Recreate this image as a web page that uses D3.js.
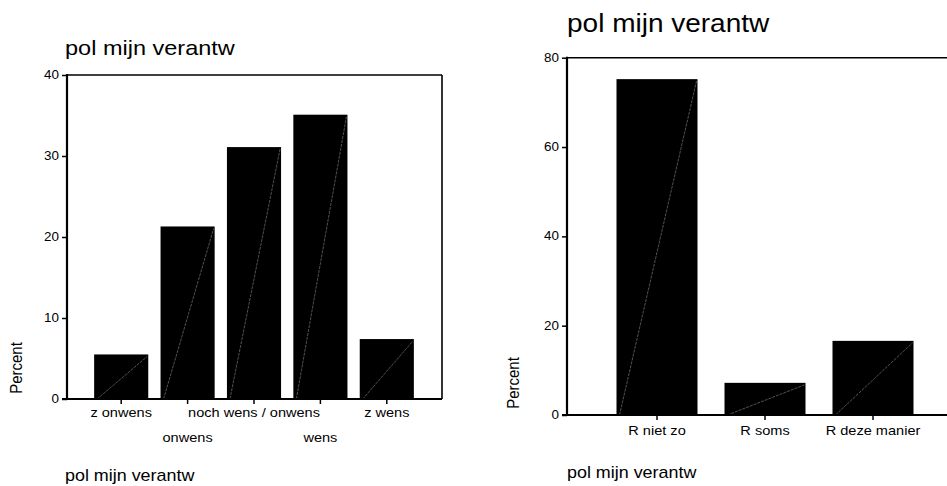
<!DOCTYPE html>
<html>
<head>
<meta charset="utf-8">
<script src="https://cdn.jsdelivr.net/npm/d3@7"></script>
<style>
  html, body { margin: 0; padding: 0; background: #fff; }
  svg { display: block; font-family: "Liberation Sans", Arial, sans-serif; }
</style>
</head>
<body>
<svg id="chart" width="947" height="486"></svg>
<script>
// ---- Data ----
const leftCategories = ["z onwens", "onwens", "noch wens / onwens", "wens", "z wens"];
const leftValues = [5.5, 21.3, 31.1, 35.1, 7.4];
const leftTicks = [0, 10, 20, 30, 40];

const rightCategories = ["R niet zo", "R soms", "R deze manier"];
const rightValues = [75.2, 7.2, 16.6];
const rightTicks = [0, 20, 40, 60, 80];

const titleText = "pol mijn verantw";
const yLabelText = "Percent";
const xLabelText = "pol mijn verantw";

const svg = d3.select("#chart");
const SX = 1.12; // horizontal text stretch

function txt(g, x, y, s, size, anchor, extra) {
  const t = g.append("text")
    .attr("transform", `translate(${x},${y}) scale(${SX},1)` + (extra || ""))
    .attr("font-size", size)
    .attr("text-anchor", anchor || "start")
    .attr("fill", "#000")
    .text(s);
  return t;
}

function drawChart(cfg) {
  const g = svg.append("g");
  const y = d3.scaleLinear().domain(cfg.yDomain).range([cfg.bottom, cfg.top]);
  const x = d3.scaleBand().domain(cfg.categories).range(cfg.bandRange).paddingInner(cfg.pad).paddingOuter(cfg.pad / 2);

  // frame top & right
  g.append("line").attr("x1", cfg.left).attr("x2", cfg.right).attr("y1", cfg.top).attr("y2", cfg.top)
    .attr("stroke", "#000").attr("stroke-width", 1.6);
  if (cfg.right < 947) {
    g.append("line").attr("x1", cfg.right).attr("x2", cfg.right).attr("y1", cfg.top).attr("y2", cfg.bottom)
      .attr("stroke", "#000").attr("stroke-width", 1.6);
  }

  // bars
  const bars = g.selectAll("g.bar").data(cfg.categories.map((c, i) => ({ c, v: cfg.values[i] }))).enter().append("g");
  bars.append("rect")
    .attr("x", d => x(d.c)).attr("width", x.bandwidth())
    .attr("y", d => y(d.v)).attr("height", d => y(0) - y(d.v))
    .attr("fill", "#000");
  bars.append("line")
    .attr("x1", d => x(d.c) + 3).attr("y1", y(0))
    .attr("x2", d => x(d.c) + x.bandwidth() - 1).attr("y2", d => y(d.v) + 2)
    .attr("stroke", "#8a8a8a").attr("stroke-width", 0.6).attr("stroke-dasharray", "3,1");

  // y axis
  const ya = g.append("g").attr("transform", `translate(${cfg.left},0)`)
    .call(d3.axisLeft(y).tickValues(cfg.ticks).tickSize(5).tickPadding(3).tickFormat(d3.format("d")));
  ya.select(".domain").remove();
  ya.selectAll(".tick line").attr("stroke", "#000").attr("stroke-width", 1.5);
  ya.selectAll(".tick text").remove();
  cfg.ticks.forEach(t => {
    txt(g, cfg.left - 8, y(t) + 4, String(t), 12, "end");
  });
  g.append("line").attr("x1", cfg.left).attr("x2", cfg.left).attr("y1", cfg.top - 1).attr("y2", cfg.bottom + 1)
    .attr("stroke", "#000").attr("stroke-width", 2.2);

  // x axis
  const xa = g.append("g").attr("transform", `translate(0,${cfg.bottom})`)
    .call(d3.axisBottom(x).tickSize(5).tickSizeOuter(0));
  xa.select(".domain").remove();
  xa.selectAll(".tick line").attr("stroke", "#000").attr("stroke-width", 1.5);
  xa.selectAll(".tick text").remove();
  g.append("line").attr("x1", cfg.left - 5).attr("x2", cfg.right).attr("y1", cfg.bottom).attr("y2", cfg.bottom)
    .attr("stroke", "#000").attr("stroke-width", 2.2);
  cfg.categories.forEach((c, i) => {
    const row = cfg.stagger ? i % 2 : 0;
    txt(g, x(c) + x.bandwidth() / 2, cfg.labelY + row * cfg.rowGap, c, 13, "middle");
  });

  // titles
  txt(g, cfg.titleX, cfg.titleY, titleText, cfg.titleSize, "start");
  txt(g, cfg.titleX, cfg.xLabelY, xLabelText, 16, "start");
  g.append("text")
    .attr("transform", `translate(${cfg.yLabelX},${cfg.yLabelY}) rotate(-90) scale(1,${SX})`)
    .attr("font-size", 15).attr("text-anchor", "middle").attr("fill", "#000")
    .text(yLabelText);
}

drawChart({
  categories: leftCategories, values: leftValues, ticks: leftTicks,
  yDomain: [0, 40], left: 67, right: 442, top: 75, bottom: 399,
  bandRange: [88, 420], pad: 0.185, stagger: true,
  labelY: 417, rowGap: 25,
  titleX: 65, titleY: 55, titleSize: 21, xLabelY: 481,
  yLabelX: 22, yLabelY: 368
});

drawChart({
  categories: rightCategories, values: rightValues, ticks: rightTicks,
  yDomain: [0, 80], left: 567, right: 960, top: 57.7, bottom: 415,
  bandRange: [603, 927], pad: 0.25, stagger: false,
  labelY: 435, rowGap: 0,
  titleX: 567, titleY: 32, titleSize: 25, xLabelY: 478,
  yLabelX: 519, yLabelY: 383
});
</script>
</body>
</html>
